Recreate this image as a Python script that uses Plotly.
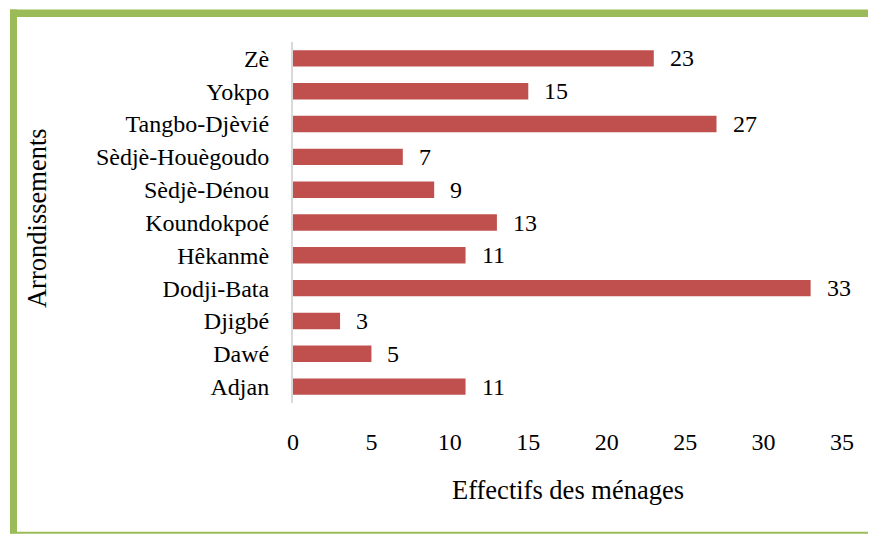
import plotly.graph_objects as go

# --- Data (bottom to top) ---
arrondissements = ["Adjan", "Dawé", "Djigbé", "Dodji-Bata", "Hêkanmè", "Koundokpoé",
                   "Sèdjè-Dénou", "Sèdjè-Houègoudo", "Tangbo-Djèvié", "Yokpo", "Zè"]
effectifs = [11, 5, 3, 33, 11, 13, 9, 7, 27, 15, 23]
x_ticks = [0, 5, 10, 15, 20, 25, 30, 35]

# page body has an 8px margin, so the figure is drawn 8px smaller and offset
OFF = 8
W, H = 876 - OFF, 535 - OFF
ML, MR, MT, MB = 293 - OFF, 34, 41.5 - OFF, 131.5
PW, PH = W - ML - MR, H - MT - MB

def px(x):
    return (x - OFF - ML) / PW

def py(y):
    return (H - MB - (y - OFF)) / PH

FONT = "Liberation Serif"
GREEN = "#9BBB59"

fig = go.Figure()
fig.add_trace(go.Bar(
    x=effectifs, y=arrondissements, orientation="h",
    marker=dict(color="#C0504D", line=dict(width=0)),
    hoverinfo="x+y",
))

annotations = [
    dict(x=v, y=c, xref="x", yref="y", text=str(v), showarrow=False,
         xanchor="left", xshift=14, font=dict(size=24, color="black", family=FONT))
    for c, v in zip(arrondissements, effectifs)
]
annotations += [
    dict(x=0.5, y=py(491), xref="paper", yref="paper", text="Effectifs des ménages",
         showarrow=False, xanchor="center", yanchor="middle",
         font=dict(size=26.5, color="black", family=FONT)),
    dict(x=px(37), y=py(218), xref="paper", yref="paper", text="Arrondissements",
         showarrow=False, textangle=-90, xanchor="center", yanchor="middle",
         font=dict(size=26.5, color="black", family=FONT)),
]

shapes = [
    # green frame
    dict(type="line", xref="paper", yref="paper", x0=px(13.5), x1=px(13.5), y0=py(9), y1=py(534),
         line=dict(color=GREEN, width=7)),
    dict(type="line", xref="paper", yref="paper", x0=px(10), x1=px(880), y0=py(12.7), y1=py(12.7),
         line=dict(color=GREEN, width=7.5)),
    dict(type="line", xref="paper", yref="paper", x0=px(10), x1=px(880), y0=py(533.5), y1=py(533.5),
         line=dict(color=GREEN, width=2)),
]

fig.update_layout(
    width=W, height=H,
    margin=dict(l=ML, r=MR, t=MT, b=MB),
    paper_bgcolor="white", plot_bgcolor="white",
    showlegend=False,
    bargap=0.5,
    font=dict(family=FONT, size=24, color="black"),
    xaxis=dict(range=[0, 35], tickvals=x_ticks, showgrid=False, zeroline=False,
               showline=False, ticks="", ticklabelstandoff=22,
               tickfont=dict(size=24, family=FONT, color="black")),
    yaxis=dict(categoryorder="array", categoryarray=arrondissements,
               showgrid=False, zeroline=False, showline=True, linecolor="#D9D9D9", linewidth=2,
               ticks="", ticklabelstandoff=17,
               tickfont=dict(size=24, family=FONT, color="black")),
    annotations=annotations,
    shapes=shapes,
)

fig.write_html("out.html")
